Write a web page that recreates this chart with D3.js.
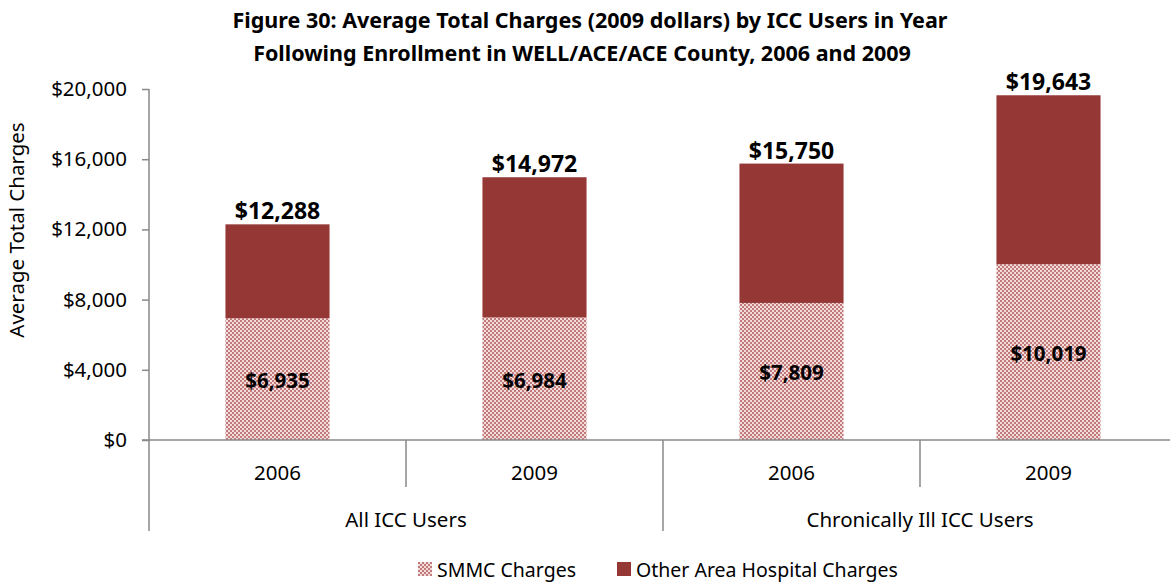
<!DOCTYPE html>
<html>
<head>
<meta charset="utf-8">
<script src="https://cdn.jsdelivr.net/npm/d3@7"></script>
<style>
  body { margin: 0; background: #fff; overflow: hidden; }
  text { font-family: "Noto Sans", "Open Sans", sans-serif; }
</style>
</head>
<body>
<div id="vis"></div>
<script>
const groups = ["All ICC Users", "All ICC Users", "Chronically Ill ICC Users", "Chronically Ill ICC Users"];
const years = ["2006", "2009", "2006", "2009"];
const smmc = [6935, 6984, 7809, 10019];
const totals = [12288, 14972, 15750, 19643];
const yTicks = [0, 4000, 8000, 12000, 16000, 20000];
const seriesNames = ["SMMC Charges", "Other Area Hospital Charges"];

const width = 1170, height = 583;
// the plot area runs slightly past the right edge, as in the original crop
const margin = {top: 89, right: -7, bottom: 143, left: 149};
const dark = "#953735";

const svg = d3.select("#vis").append("svg")
    .attr("width", width)
    .attr("height", height);

const defs = svg.append("defs");
const pat = defs.append("pattern")
    .attr("id", "checks")
    .attr("patternUnits", "userSpaceOnUse")
    .attr("width", 4).attr("height", 4);
pat.append("rect").attr("width", 4).attr("height", 4).attr("fill", "#f3dcdc");
pat.append("rect").attr("width", 2).attr("height", 2).attr("fill", "#c2797a");
pat.append("rect").attr("x", 2).attr("y", 2).attr("width", 2).attr("height", 2).attr("fill", "#c2797a");

const idx = d3.range(totals.length);
const x = d3.scaleBand()
    .domain(idx)
    .range([margin.left, width - margin.right])
    .paddingInner(0.595).paddingOuter(0.2975);
const y = d3.scaleLinear()
    .domain([0, 20000])
    .range([height - margin.bottom, margin.top]);

// title
svg.append("text")
    .attr("x", 590).attr("y", 28)
    .attr("text-anchor", "middle")
    .attr("font-size", 21.5).attr("font-weight", "bold")
    .text("Figure 30: Average Total Charges (2009 dollars) by ICC Users in Year");
svg.append("text")
    .attr("x", 582).attr("y", 61)
    .attr("text-anchor", "middle")
    .attr("font-size", 21.5).attr("font-weight", "bold")
    .text("Following Enrollment in WELL/ACE/ACE County, 2006 and 2009");

// y axis
const yAxis = svg.append("g")
    .attr("transform", `translate(${margin.left},0)`)
    .call(d3.axisLeft(y).tickValues(yTicks).tickSize(7).tickFormat(d => "$" + d3.format(",")(d)));
yAxis.selectAll("path, line").attr("stroke", "#898989").attr("stroke-width", 1.5);
yAxis.select(".domain").attr("d", `M0,${y(20000)}V${y(0)}`);
yAxis.selectAll("text").attr("font-size", 20.5).attr("fill", "#000").attr("x", -22)
    .attr("font-family", "Noto Sans");

svg.append("text")
    .attr("transform", "translate(24,230) rotate(-90)")
    .attr("text-anchor", "middle")
    .attr("font-size", 20.5)
    .text("Average Total Charges");

// bars
const bars = svg.append("g");
bars.selectAll(".smmc").data(idx).join("rect")
    .attr("x", i => x(i)).attr("width", x.bandwidth())
    .attr("y", i => y(smmc[i])).attr("height", i => y(0) - y(smmc[i]))
    .attr("fill", "url(#checks)");
bars.selectAll(".other").data(idx).join("rect")
    .attr("x", i => x(i)).attr("width", x.bandwidth())
    .attr("y", i => y(totals[i])).attr("height", i => y(smmc[i]) - y(totals[i]))
    .attr("fill", dark);

// labels
const fmt = d => "$" + d3.format(",")(d);
svg.selectAll(".tot").data(idx).join("text")
    .attr("x", i => x(i) + x.bandwidth() / 2)
    .attr("y", i => y(totals[i]) - 5)
    .attr("text-anchor", "middle")
    .attr("font-size", 23).attr("font-weight", "bold")
    .text(i => fmt(totals[i]));
svg.selectAll(".sm").data(idx).join("text")
    .attr("x", i => x(i) + x.bandwidth() / 2)
    .attr("y", i => y(smmc[i] / 2) + 9)
    .attr("text-anchor", "middle")
    .attr("font-size", 20.5).attr("font-weight", "bold")
    .text(i => fmt(smmc[i]));

// x axis baseline and category separators
const step = x.step();
const x0 = margin.left, base = y(0);
svg.append("line")
    .attr("x1", x0 - 7).attr("x2", width)
    .attr("y1", base).attr("y2", base)
    .attr("stroke", "#898989").attr("stroke-width", 1.5);
d3.range(totals.length + 1).forEach(k => {
  const sx = x0 + k * step;
  const full = k % 2 === 0;
  svg.append("line")
      .attr("x1", sx).attr("x2", sx)
      .attr("y1", base).attr("y2", full ? 531 : 487)
      .attr("stroke", "#898989").attr("stroke-width", 1.5);
});
svg.selectAll(".yr").data(idx).join("text")
    .attr("x", i => x(i) + x.bandwidth() / 2)
    .attr("y", 480)
    .attr("text-anchor", "middle")
    .attr("font-size", 20.5)
    .text(i => years[i]);
const groupNames = Array.from(new Set(groups));
svg.selectAll(".grp").data(groupNames).join("text")
    .attr("x", (g, j) => x0 + step * (2 * j + 1))
    .attr("y", 527)
    .attr("text-anchor", "middle")
    .attr("font-size", 20.5)
    .text(g => g);

// legend
const legend = svg.append("g");
const legX = [418, 617];
seriesNames.forEach((name, k) => {
  legend.append("rect")
      .attr("x", legX[k]).attr("y", 562).attr("width", 14).attr("height", 14)
      .attr("fill", k === 0 ? "url(#checks)" : dark);
  legend.append("text")
      .attr("x", legX[k] + 19).attr("y", 577)
      .attr("font-size", 19.5)
      .text(name);
});
</script>
</body>
</html>
